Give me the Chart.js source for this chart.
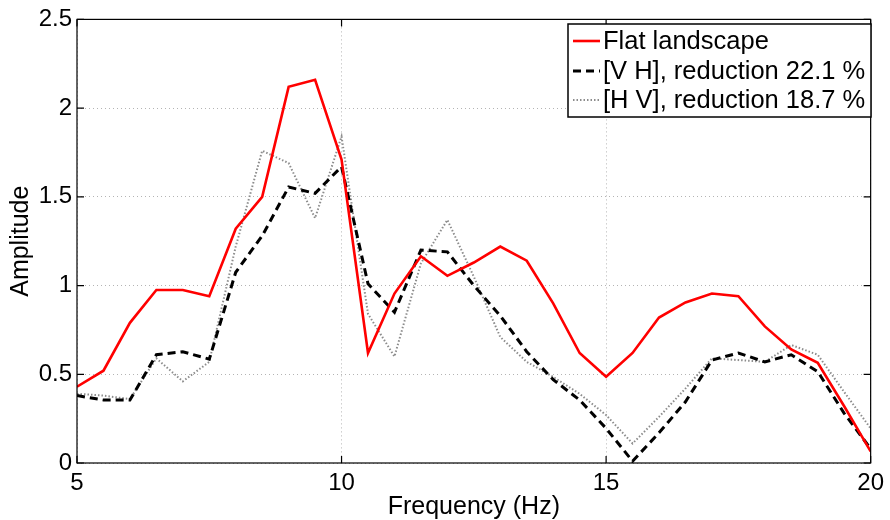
<!DOCTYPE html>
<html>
<head>
  <title>Amplitude vs frequency</title>
  <script src="https://cdn.jsdelivr.net/npm/chart.js"></script>
  <style>
    html, body { margin: 0; padding: 0; background: #fff; }
    #wrap { width: 890px; height: 520px; }
  </style>
</head>
<body>
  <div id="wrap"><canvas id="ampChart"></canvas></div>

  <script>
    // frequency points (Hz)
    var freq = [5, 5.5, 6, 6.5, 7, 7.5, 8, 8.5, 9, 9.5, 10, 10.5, 11, 11.5, 12, 12.5,
                13, 13.5, 14, 14.5, 15, 15.5, 16, 16.5, 17, 17.5, 18, 18.5, 19, 19.5, 20];

    // amplitudes
    var flat = [0.43, 0.52, 0.79, 0.975, 0.975, 0.94, 1.32, 1.50, 2.12, 2.16, 1.71,
                0.62, 0.955, 1.165, 1.055, 1.13, 1.22, 1.14, 0.90, 0.62, 0.486,
                0.62, 0.82, 0.905, 0.955, 0.94, 0.77, 0.64, 0.565, 0.32, 0.065];
    var vh = [0.38, 0.355, 0.355, 0.61, 0.627, 0.585, 1.075, 1.28, 1.555, 1.52, 1.67,
              1.01, 0.85, 1.20, 1.19, 1.0, 0.83, 0.627, 0.47, 0.355, 0.195,
              0.01, 0.17, 0.345, 0.58, 0.62, 0.57, 0.61, 0.515, 0.28, 0.08];
    var hv = [0.39, 0.38, 0.36, 0.59, 0.46, 0.57, 1.22, 1.76, 1.69, 1.38, 1.84,
              0.84, 0.60, 1.125, 1.37, 1.05, 0.71, 0.57, 0.485, 0.39, 0.27,
              0.11, 0.26, 0.42, 0.59, 0.58, 0.57, 0.665, 0.61, 0.40, 0.195];

    var xTicks = [5, 10, 15, 20];
    var yTicks = [0, 0.5, 1, 1.5, 2, 2.5];

    var seriesNames = ['Flat landscape', '[V H], reduction 22.1 %', '[H V], reduction 18.7 %'];

    function pts(arr) {
      return arr.map(function (v, i) { return { x: freq[i], y: v }; });
    }

    var FONT = '"Liberation Sans", Arial, Helvetica, sans-serif';

    // MATLAB-style frame, inward ticks and boxed legend
    var matlabBox = {
      id: 'matlabBox',
      afterDatasetsDraw: function (chart) {
        var ctx = chart.ctx, a = chart.chartArea;
        var xs = chart.scales.x, ys = chart.scales.y;
        var tl = 7;
        ctx.save();
        ctx.strokeStyle = '#000';
        ctx.lineWidth = 1.2;
        ctx.setLineDash([]);
        ctx.strokeRect(a.left, a.top, a.right - a.left, a.bottom - a.top);
        ctx.beginPath();
        xTicks.forEach(function (t) {
          var px = xs.getPixelForValue(t);
          ctx.moveTo(px, a.bottom); ctx.lineTo(px, a.bottom - tl);
          ctx.moveTo(px, a.top); ctx.lineTo(px, a.top + tl);
        });
        yTicks.forEach(function (t) {
          var py = ys.getPixelForValue(t);
          ctx.moveTo(a.left, py); ctx.lineTo(a.left + tl, py);
          ctx.moveTo(a.right, py); ctx.lineTo(a.right - tl, py);
        });
        ctx.stroke();

        // legend
        var lx = 568, ly = 24, lw = 303, lh = 93;
        ctx.fillStyle = '#fff';
        ctx.fillRect(lx, ly, lw, lh);
        ctx.strokeStyle = '#000';
        ctx.lineWidth = 1.5;
        ctx.strokeRect(lx, ly, lw, lh);
        var rows = [41, 71, 100];
        ctx.font = '25.5px ' + FONT;
        ctx.textBaseline = 'middle';
        ctx.textAlign = 'left';
        chart.data.datasets.forEach(function (ds, i) {
          ctx.strokeStyle = ds.borderColor;
          ctx.lineWidth = ds.borderWidth;
          ctx.setLineDash(ds.borderDash || []);
          ctx.beginPath();
          ctx.moveTo(573, rows[i]);
          ctx.lineTo(600, rows[i]);
          ctx.stroke();
          ctx.setLineDash([]);
          ctx.fillStyle = '#000';
          ctx.fillText(ds.label, 603, rows[i] + 1);
        });
        ctx.restore();
      }
    };

    function plainLabel(v) { return String(v); }

    var ctx = document.getElementById('ampChart').getContext('2d');
    var chart = new Chart(ctx, {
      type: 'line',
      data: {
        datasets: [
          { label: seriesNames[0], data: pts(flat), borderColor: '#ff0000', borderWidth: 2.6, borderDash: [] },
          { label: seriesNames[1], data: pts(vh), borderColor: '#000000', borderWidth: 3, borderDash: [8, 5] },
          { label: seriesNames[2], data: pts(hv), borderColor: '#8c8c8c', borderWidth: 2, borderDash: [1.5, 2] }
        ]
      },
      options: {
        responsive: true,
        maintainAspectRatio: false,
        animation: false,
        elements: { point: { radius: 0 }, line: { tension: 0 } },
        layout: { padding: { left: 0, right: 16, top: 19, bottom: 0 } },
        plugins: { legend: { display: false }, tooltip: { enabled: false } },
        scales: {
          x: {
            type: 'linear',
            min: 5, max: 20,
            afterBuildTicks: function (s) { s.ticks = xTicks.map(function (v) { return { value: v }; }); },
            afterFit: function (s) { s.height = 57; },
            grid: { color: '#b4b4b4', lineWidth: 1, drawTicks: false },
            border: { display: false, dash: [1, 3] },
            ticks: { color: '#000', padding: 6, maxRotation: 0, callback: plainLabel,
                     font: { family: FONT, size: 24 } },
            title: { display: true, text: 'Frequency (Hz)', color: '#000',
                     font: { family: FONT, size: 25, lineHeight: 1 }, padding: { top: 0, bottom: 0 } }
          },
          y: {
            min: 0, max: 2.5,
            afterBuildTicks: function (s) { s.ticks = yTicks.map(function (v) { return { value: v }; }); },
            afterFit: function (s) { s.width = 77; },
            grid: { color: '#b4b4b4', lineWidth: 1, drawTicks: false },
            border: { display: false, dash: [1, 3] },
            ticks: { color: '#000', padding: 5, callback: plainLabel,
                     font: { family: FONT, size: 24 } },
            title: { display: true, text: 'Amplitude', color: '#000',
                     font: { family: FONT, size: 25, lineHeight: 1 }, padding: { top: 9, bottom: 0 } }
          }
        }
      },
      plugins: [matlabBox]
    });
  </script>
</body>
</html>
